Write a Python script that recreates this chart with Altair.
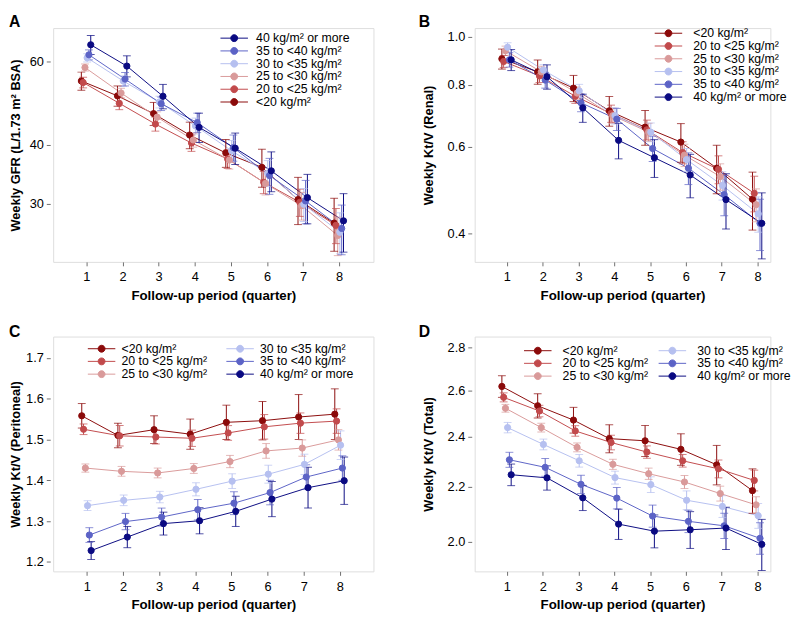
import altair as alt
import pandas as pd

QUARTERS = [1, 2, 3, 4, 5, 6, 7, 8]
GROUPS = ["<20 kg/m²", "20 to <25 kg/m²", "25 to <30 kg/m²",
          "30 to <35 kg/m²", "35 to <40 kg/m²", "40 kg/m² or more"]
COLORS = ["#8B0A0A", "#C24A4C", "#D99A9A", "#B6C0F0", "#5C63C6", "#0A0A82"]
DODGE = [-0.14, -0.09, -0.04, 0.02, 0.07, 0.12]

# Panel A: weekly GFR
A_VALUES = [
    [54.5, 50.7, 46.5, 41.9, 38.4, 35.8, 30.6, 27.3],
    [54.1, 48.9, 44.2, 40.3, 37.3, 33.3, 30.2, 27.0],
    [58.2, 51.4, 45.7, 40.9, 37.1, 33.1, 29.7, 25.7],
    [61.0, 54.5, 49.2, 43.8, 38.8, 34.8, 29.9, 26.1],
    [61.9, 55.0, 48.8, 44.5, 39.4, 34.4, 30.4, 26.6],
    [65.0, 58.6, 50.6, 43.5, 39.3, 35.2, 30.9, 27.6],
]
A_ERRORS = [
    [2.4, 2.5, 2.6, 2.7, 2.6, 3.3, 3.5, 3.5],
    [1.4, 1.5, 1.5, 1.6, 1.7, 1.8, 2.0, 2.3],
    [1.0, 1.2, 1.2, 1.4, 1.6, 1.8, 2.0, 2.4],
    [1.2, 1.4, 1.4, 1.7, 2.0, 2.2, 2.4, 2.6],
    [1.5, 1.8, 1.6, 2.1, 2.5, 3.0, 3.2, 3.2],
    [3.0, 3.0, 3.0, 3.1, 3.0, 3.4, 3.7, 3.9],
]

# Panel B: weekly Kt/V (renal)
B_VALUES = [
    [0.903, 0.850, 0.788, 0.709, 0.657, 0.613, 0.543, 0.470],
    [0.892, 0.834, 0.759, 0.700, 0.649, 0.584, 0.540, 0.483],
    [0.938, 0.850, 0.770, 0.693, 0.642, 0.577, 0.522, 0.458],
    [0.953, 0.857, 0.778, 0.693, 0.642, 0.565, 0.501, 0.439],
    [0.899, 0.818, 0.736, 0.682, 0.595, 0.543, 0.480, 0.420],
    [0.899, 0.831, 0.719, 0.618, 0.570, 0.526, 0.469, 0.420],
]
B_ERRORS = [
    [0.042, 0.048, 0.048, 0.049, 0.053, 0.055, 0.061, 0.063],
    [0.025, 0.025, 0.025, 0.028, 0.030, 0.030, 0.035, 0.040],
    [0.020, 0.022, 0.022, 0.025, 0.027, 0.030, 0.032, 0.035],
    [0.020, 0.022, 0.024, 0.026, 0.028, 0.030, 0.033, 0.036],
    [0.030, 0.030, 0.030, 0.035, 0.035, 0.040, 0.045, 0.050],
    [0.044, 0.047, 0.047, 0.051, 0.050, 0.053, 0.060, 0.064],
]

# Panel C: weekly Kt/V (peritoneal)
C_VALUES = [
    [1.558, 1.510, 1.524, 1.513, 1.542, 1.546, 1.555, 1.562],
    [1.525, 1.509, 1.506, 1.503, 1.516, 1.531, 1.540, 1.545],
    [1.430, 1.422, 1.418, 1.429, 1.446, 1.472, 1.479, 1.499],
    [1.338, 1.351, 1.359, 1.378, 1.398, 1.415, 1.439, 1.486],
    [1.266, 1.299, 1.310, 1.328, 1.344, 1.370, 1.408, 1.430],
    [1.228, 1.261, 1.294, 1.301, 1.324, 1.354, 1.382, 1.399],
]
C_ERRORS = [
    [0.030, 0.030, 0.034, 0.037, 0.042, 0.047, 0.055, 0.062],
    [0.013, 0.025, 0.017, 0.020, 0.018, 0.030, 0.025, 0.030],
    [0.010, 0.012, 0.012, 0.012, 0.015, 0.018, 0.020, 0.025],
    [0.012, 0.013, 0.014, 0.016, 0.018, 0.022, 0.025, 0.035],
    [0.018, 0.020, 0.022, 0.025, 0.028, 0.030, 0.030, 0.030],
    [0.022, 0.026, 0.028, 0.032, 0.037, 0.043, 0.050, 0.058],
]

# Panel D: weekly Kt/V (total)
D_VALUES = [
    [2.617, 2.531, 2.469, 2.391, 2.382, 2.347, 2.285, 2.185],
    [2.568, 2.508, 2.423, 2.375, 2.336, 2.301, 2.269, 2.224],
    [2.520, 2.437, 2.355, 2.287, 2.250, 2.218, 2.174, 2.132],
    [2.437, 2.367, 2.301, 2.235, 2.208, 2.149, 2.126, 2.092],
    [2.305, 2.275, 2.209, 2.157, 2.091, 2.072, 2.056, 2.012],
    [2.246, 2.234, 2.158, 2.062, 2.037, 2.042, 2.048, 1.991],
]
D_ERRORS = [
    [0.049, 0.053, 0.055, 0.058, 0.064, 0.064, 0.078, 0.084],
    [0.020, 0.025, 0.022, 0.030, 0.025, 0.025, 0.035, 0.040],
    [0.017, 0.018, 0.018, 0.020, 0.022, 0.025, 0.028, 0.030],
    [0.022, 0.022, 0.025, 0.025, 0.030, 0.035, 0.040, 0.045],
    [0.030, 0.035, 0.035, 0.040, 0.040, 0.040, 0.045, 0.055],
    [0.042, 0.047, 0.047, 0.054, 0.058, 0.065, 0.075, 0.088],
]

FONT = "Liberation Sans"
FRAME = "#6E6E6E"
# legend glyph: a short line with a dot in the middle
LEGEND_PATH = "M-3,0H3M0.75,0A0.75,0.75,0,1,1,-0.75,0A0.75,0.75,0,1,1,0.75,0Z"


def make_df(values, errors):
    rows = []
    for gi, g in enumerate(GROUPS):
        for qi, q in enumerate(QUARTERS):
            v = values[gi][qi]
            e = errors[gi][qi]
            rows.append(dict(group=g, quarter=q, xpos=q + DODGE[gi],
                             value=v, lo=v - e, hi=v + e))
    return pd.DataFrame(rows)


def panel(values, errors, letter, ytitle, yscale, yticks, yfmt, xdomain,
          width, height, legend_order, line_order, legend_x, legend_y,
          legend_cols, col_pad, label_off, title_x, letter_x, letter_y):
    df = make_df(values, errors)
    # legend scale (fill / stroke of the points)
    lscale = alt.Scale(domain=[GROUPS[i] for i in legend_order],
                       range=[COLORS[i] for i in legend_order])
    # colour scale for lines and error bars (different domain order so that
    # its disabled legend is not merged with the point legend)
    cscale = alt.Scale(domain=[GROUPS[i] for i in line_order],
                       range=[COLORS[i] for i in line_order])

    xaxis = alt.Axis(values=QUARTERS, format="d", domain=False, ticks=True,
                     tickSize=4, tickColor=FRAME, labelPadding=5, grid=False,
                     labelFont=FONT, labelFontSize=13, labelColor="black",
                     titleFont=FONT, titleFontSize=13.5, titleFontWeight="bold",
                     titleColor="black", titlePadding=5)
    yaxis = alt.Axis(values=yticks, format=yfmt, domain=False, ticks=True,
                     tickSize=4, tickColor=FRAME, offset=3, labelPadding=3,
                     grid=False, labelFont=FONT, labelFontSize=13,
                     labelColor="black", titleFont=FONT, titleFontSize=13,
                     titleFontWeight="bold", titleColor="black",
                     titleX=title_x, titleY=height / 2, titleAngle=-90,
                     titleAlign="center", titleBaseline="middle")
    xs = alt.Scale(domain=xdomain, nice=False, zero=False)

    def X():
        return alt.X("xpos:Q", scale=xs, axis=xaxis,
                     title="Follow-up period (quarter)")

    def Y(field):
        return alt.Y(field, scale=yscale, axis=yaxis, title=ytitle)

    color = alt.Color("group:N", scale=cscale, legend=None)
    base = alt.Chart(df)

    lines = base.mark_line(strokeWidth=1).encode(
        x=X(), y=Y("value:Q"), color=color, detail="group:N",
        order="quarter:Q")
    rules = base.mark_rule(strokeWidth=1).encode(
        x=X(), y=Y("lo:Q"), y2="hi:Q", color=color)
    cap_lo = base.mark_tick(orient="horizontal", size=8, thickness=1).encode(
        x=X(), y=Y("lo:Q"), color=color)
    cap_hi = base.mark_tick(orient="horizontal", size=8, thickness=1).encode(
        x=X(), y=Y("hi:Q"), color=color)

    leg = alt.Legend(orient="none", legendX=legend_x, legendY=legend_y,
                     columns=legend_cols, symbolType=LEGEND_PATH,
                     symbolSize=87, symbolStrokeWidth=1,
                     labelFont=FONT, labelFontSize=12.5, labelColor="black",
                     labelOffset=label_off, rowPadding=0,
                     columnPadding=col_pad)
    points = base.mark_point(filled=True, size=40, opacity=1,
                             strokeWidth=1).encode(
        x=X(), y=Y("value:Q"),
        fill=alt.Fill("group:N", scale=lscale, legend=leg, title=""),
        stroke=alt.Stroke("group:N", scale=lscale, legend=leg, title=""))

    lab = alt.Chart(pd.DataFrame({"t": [letter]})).mark_text(
        font=FONT, fontSize=16, fontWeight="bold", align="left",
        baseline="top", color="black").encode(
        text="t:N", x=alt.value(letter_x), y=alt.value(letter_y))

    return alt.layer(lines, rules, cap_lo, cap_hi, points, lab).properties(
        width=width, height=height)


order_a = [5, 4, 3, 2, 1, 0]
order_b = [0, 1, 2, 3, 4, 5]

pa = panel(A_VALUES, A_ERRORS, "A", "Weekly GFR (L/1.73 m² BSA)",
           alt.Scale(type="log", domain=[22.6, 70.5], nice=False),
           [30, 40, 60], "d", [0.08, 8.95], 326, 238, order_a, order_b,
           178, 4, 1, 10, 16, -35, -45, -14)
pb = panel(B_VALUES, B_ERRORS, "B", "Weekly Kt/V (Renal)",
           alt.Scale(type="log", domain=[0.351, 1.042], nice=False),
           [0.4, 0.6, 0.8, 1.0], ".1f", [0.1, 8.36], 301, 238, order_b,
           order_a, 191, -1, 1, 10, 19, -44, -57, -14)
pc = panel(C_VALUES, C_ERRORS, "C", "Weekly Kt/V (Peritoneal)",
           alt.Scale(type="linear", domain=[1.177, 1.752], nice=False,
                     zero=False),
           [1.2, 1.3, 1.4, 1.5, 1.6, 1.7], ".1f", [0.07, 8.93], 326, 239,
           order_b, order_a, 43, 6, 2, 17, 14, -35, -45, -13)
pd_ = panel(D_VALUES, D_ERRORS, "D", "Weekly Kt/V (Total)",
            alt.Scale(type="log", domain=[1.90, 2.853], nice=False),
            [2.0, 2.2, 2.4, 2.6, 2.8], ".1f", [0.1, 8.36], 301, 239,
            order_b, order_a, 58, 8, 2, 8, 19, -44, -57, -13)

ind = dict(x="independent", y="independent", color="independent",
           fill="independent", stroke="independent")
top = alt.hconcat(pa, pb, spacing=44).resolve_scale(**ind)
bottom = alt.hconcat(pc, pd_, spacing=44).resolve_scale(**ind)

chart = alt.vconcat(top, bottom, spacing=21).resolve_scale(
    **ind).properties(padding=0).configure_view(
    stroke=FRAME, strokeWidth=1).configure(background="white")

chart.save("out.html", embed_options={"renderer": "svg", "actions": False})
